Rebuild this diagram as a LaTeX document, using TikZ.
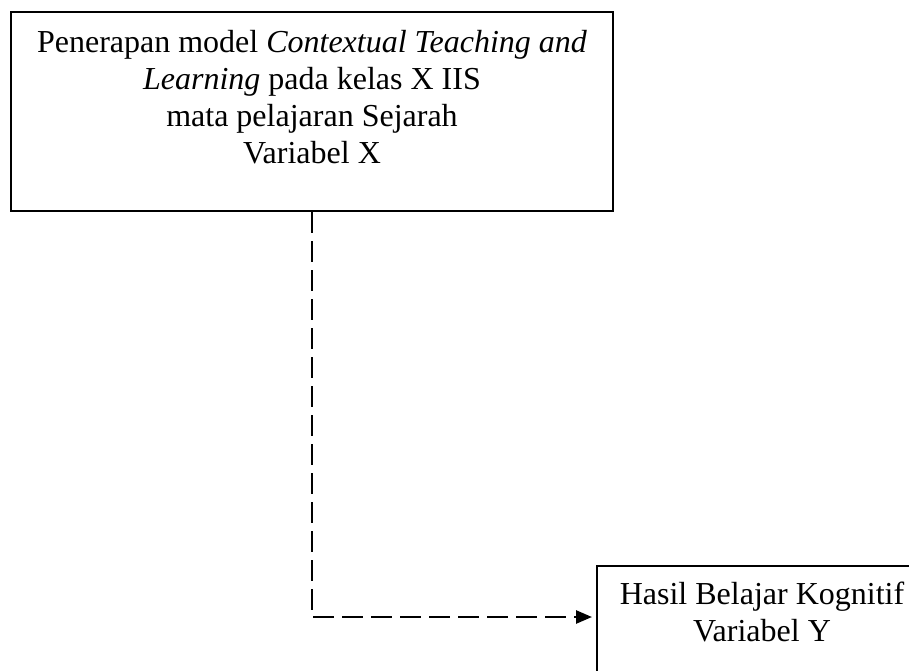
\documentclass[tikz,border=0pt]{standalone}
\usepackage{fontspec}
\setmainfont{Liberation Serif}
\usetikzlibrary{arrows.meta}

\begin{document}
\begin{tikzpicture}[x=1pt, y=-1pt,
    varbox/.style={draw, line width=2pt, align=center, inner xsep=6pt, inner ysep=10pt,
        font=\fontsize{32}{37}\selectfont},
    dashline/.style={line width=2.6pt, dash pattern=on 21pt off 8pt,
        -{Triangle[length=16pt,width=13pt]}, shorten >=4pt}]
    % page frame
    \useasboundingbox (0,0) rectangle (909,671);
    \clip (0,0) rectangle (909,671);
    % variable X
    \node[varbox, anchor=north, minimum width=602pt, text height=142pt, text depth=37pt]
        (varX) at (312,11) {Penerapan model \textit{Contextual Teaching and}\\
        \textit{Learning} pada kelas X IIS\\ mata pelajaran Sejarah\\ Variabel X};
    % variable Y
    \node[varbox, anchor=north west, minimum width=330pt, text height=65pt, text depth=60pt]
        (varY) at (596,565) {Hasil Belajar Kognitif\\ Variabel Y};
    % connector
    \draw[dashline] (varX.south) |- ([yshift=-52pt]varY.north west);
\end{tikzpicture}
\end{document}
